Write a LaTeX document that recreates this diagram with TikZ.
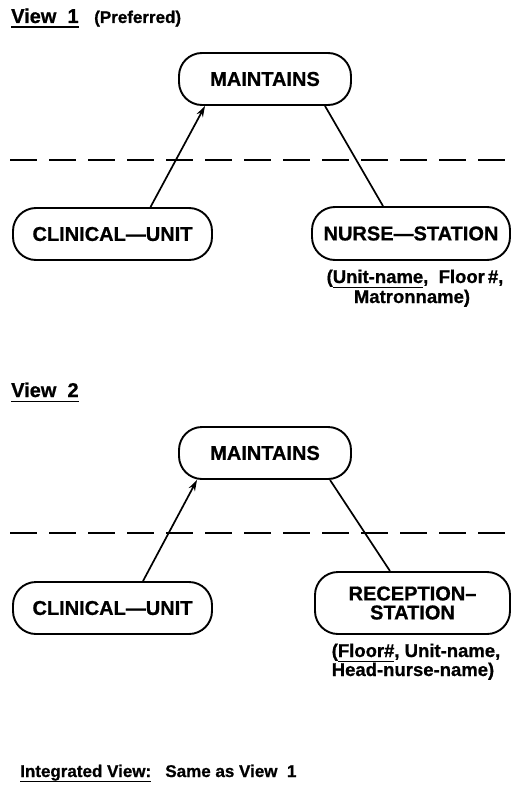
\documentclass[tikz,border=0pt]{standalone}
\usepackage{fontspec}
\setmainfont{Liberation Sans}[BoldFeatures={FakeBold=0.8}]
\usetikzlibrary{arrows.meta}
% underline with a heavier rule than \underline gives
\newcommand\ulbar[1]{\setbox0\hbox{#1}\rlap{\rule[-5pt]{\wd0}{1.5pt}}\box0}
\begin{document}
\begin{tikzpicture}[x=1pt,y=-1pt,
  relbox/.style={draw, line width=1.9pt, rounded corners=23pt, inner sep=0pt,
    minimum height=52pt, align=center,
    font=\bfseries\fontsize{20}{19}\selectfont},
  heading/.style={anchor=base west, inner sep=0pt,
    font=\bfseries\fontsize{20}{22}\selectfont},
  remark/.style={anchor=base west, inner sep=0pt,
    font=\bfseries\fontsize{17}{20}\selectfont},
  attrline/.style={anchor=base, inner sep=0pt,
    font=\bfseries\fontsize{18.5}{20}\selectfont},
  link/.style={line width=1.7pt},
  tip/.style={-{Stealth[length=11pt,width=7pt]}},
  divider/.style={line width=1.3pt, dash pattern=on 27pt off 12pt}]
\useasboundingbox (0,0) rectangle (511,787);

% ---------- View 1 ----------
\node[heading] (t1) at (11,23) {\ulbar{View\ \ 1}};
\node[remark] (p1) at (94,23) {(Preferred)};

\node[relbox, minimum width=172pt] (m1) at (265,79) {MAINTAINS};
\node[relbox, minimum width=199pt] (c1) at (112.5,234) {CLINICAL---UNIT};
\node[relbox, minimum width=198pt, minimum height=53pt] (n1) at (411,233.5) {NURSE---STATION};
\node[attrline] (a1) at (415,283) {(\ulbar{Unit-name},\ \ Floor\,\#,};
\node[attrline] (b1) at (412,303) {Matronname)};

\coordinate (d1l) at (10,160);
\coordinate (d1r) at (511,160);
\draw[divider] (d1l) -- (d1r);

\draw[link, tip] ([xshift=38pt]c1.north) -- ([xshift=-60pt]m1.south);
\draw[link] ([xshift=60pt]m1.south) -- ([xshift=-28pt]n1.north);

% ---------- View 2 ----------
\node[heading] (t2) at (11,397) {\ulbar{View\ \ 2}};

\node[relbox, minimum width=172pt] (m2) at (265,453) {MAINTAINS};
\node[relbox, minimum width=199pt] (c2) at (112.5,608) {CLINICAL---UNIT};
\node[relbox, minimum width=195pt, minimum height=62pt] (r2) at (412.5,603) {RECEPTION--\\STATION};
\node[attrline] (a2) at (416,657) {(\ulbar{Floor\#},\ Unit-name,};
\node[attrline] (b2) at (413,676) {Head-nurse-name)};

\coordinate (d2l) at (10,533);
\coordinate (d2r) at (511,533);
\draw[divider] (d2l) -- (d2r);

\draw[link, tip] ([xshift=30.5pt]c2.north) -- ([xshift=-68pt]m2.south);
\draw[link] ([xshift=65pt]m2.south) -- ([xshift=-22.5pt]r2.north);

% ---------- summary ----------
\node[remark] (iv) at (20,777) {\ulbar{Integrated View:}\ \ \ Same\ as\ View\ \ 1};
\end{tikzpicture}
\end{document}
